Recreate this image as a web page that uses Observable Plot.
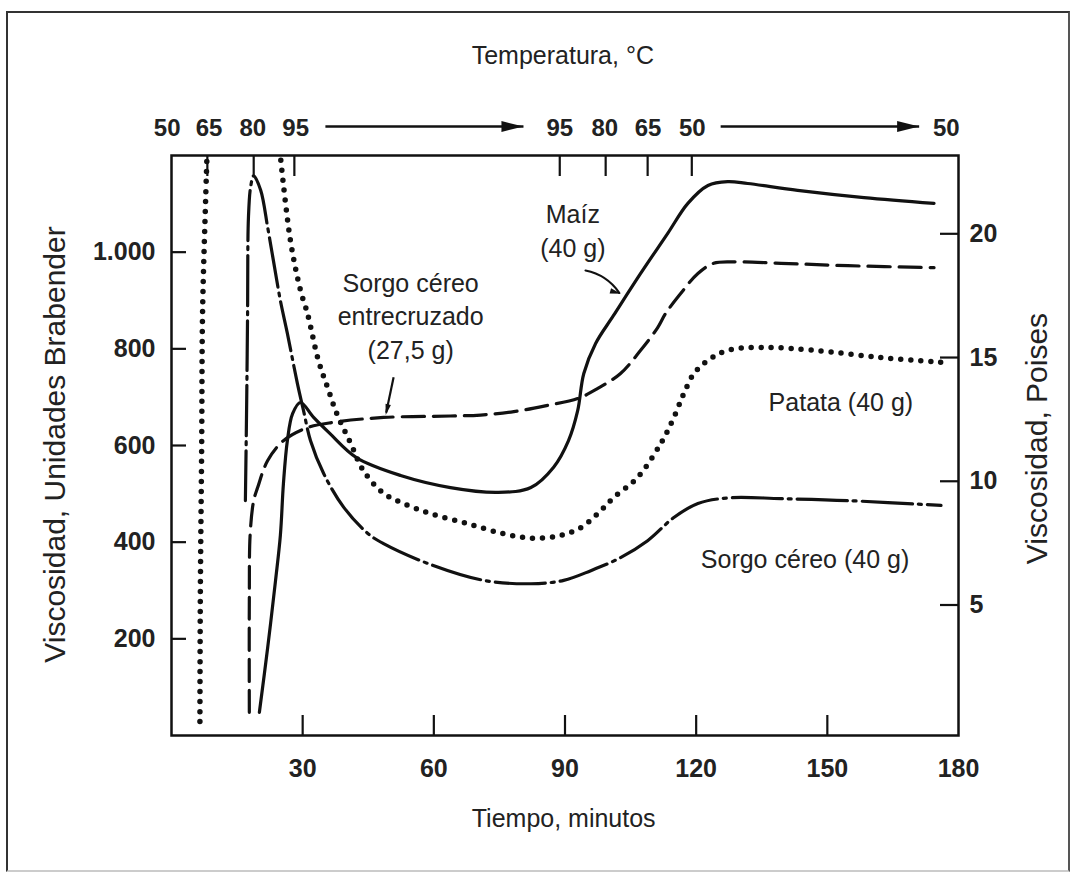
<!DOCTYPE html>
<html>
<head>
<meta charset="utf-8">
<script src="https://cdn.jsdelivr.net/npm/d3@7"></script>
<script src="https://cdn.jsdelivr.net/npm/@observablehq/plot@0.6"></script>
<style>
  html, body { margin: 0; padding: 0; background: #fff; }
  #wrap { position: relative; width: 1076px; height: 874px; overflow: hidden; }
  #border { position: absolute; left: 6px; top: 11px; width: 1060px; height: 857px;
    border-left: 2px solid #333; border-top: 2px solid #333; border-right: 2px solid #555; border-bottom: 2px solid #ccc; pointer-events: none; }
</style>
</head>
<body>
<div id="wrap"><div id="border"></div></div>
<script>
// ---- Data (time in minutes, viscosity in Brabender units) ----
const maizTime = [20.1, 22.0, 23.8, 24.9, 25.6, 26.5, 27.7, 29.5, 32.5, 36.2, 42.3, 52.4, 63.8, 74.6, 82.2, 87.4, 90.8, 92.9, 94.3, 97.0, 101.1, 107.3, 113.5, 118.1, 122.7, 127.2, 131.8, 143.2, 158.4, 174.4];
const maizVisc = [48, 182, 321, 414, 521, 610, 666, 689, 658, 625, 575, 538, 513, 503, 513, 555, 610, 672, 749, 811, 869, 956, 1039, 1101, 1138, 1146, 1142, 1128, 1113, 1101];

const entreTime = [17.8, 17.8, 18.0, 18.8, 19.7, 22.0, 25.6, 31.1, 37.1, 48.5, 63.8, 70.7, 78.3, 86.0, 92.9, 97.5, 102.7, 107.3, 111.2, 113.0, 116.5, 120.4, 124.0, 128.6, 139.4, 154.7, 174.4];
const entreVisc = [48, 279, 418, 486, 513, 569, 610, 637, 648, 658, 661, 663, 670, 683, 697, 718, 749, 797, 844, 873, 915, 956, 977, 980, 977, 972, 968];

const patataRiseTime = [6.5, 6.6, 6.9, 7.1, 7.8, 8.1];
const patataRiseVisc = [29, 300, 600, 873, 1107, 1195];
const patataTime = [25.0, 27.2, 29.5, 31.1, 33.6, 35.7, 37.8, 41.0, 43.9, 48.5, 53.1, 59.3, 67.5, 75.7, 82.8, 89.0, 93.6, 97.5, 101.1, 106.6, 111.9, 114.9, 117.2, 119.5, 122.7, 127.2, 135.5, 146.9, 162.2, 176.0];
const patataVisc = [1190, 1024, 921, 873, 776, 720, 666, 604, 548, 501, 480, 459, 439, 418, 408, 414, 430, 459, 492, 534, 604, 658, 708, 749, 776, 797, 803, 797, 782, 772];

const sorgoTime = [16.9, 17.2, 17.4, 17.6, 18.1, 18.8, 20.4, 22.0, 23.3, 24.9, 26.5, 28.8, 30.2, 31.8, 34.8, 39.4, 44.9, 48.5, 58.6, 71.4, 82.2, 89.7, 95.9, 102.7, 108.9, 114.9, 120.4, 127.9, 139.4, 154.7, 176.0];
const sorgoVisc = [486, 693, 873, 1072, 1135, 1158, 1128, 1051, 983, 900, 832, 728, 672, 610, 542, 472, 418, 397, 356, 321, 314, 321, 341, 368, 403, 451, 480, 492, 490, 486, 476];

// Axis ticks
const bbTicks = [200, 400, 600, 800, 1000];
const timeTickMarks = [30, 60, 90, 120, 150];
const timeTickLabels = [30, 60, 90, 120, 150, 180];
const poiseTicks = [5, 10, 15, 20];
const poiseAsBU = [270, 526, 782, 1038]; // where each poise tick sits on the Brabender scale

// Top temperature scale
const tempLabels = ["50", "65", "80", "95", "95", "80", "65", "50", "50"];
const tempTimes = [-1.0, 8.6, 18.6, 28.4, 88.8, 99.1, 109.0, 119.1, 177.2];
const tempTickTimes = [8.2, 18.8, 28.1, 88.8, 99.3, 108.9, 119.0];
const tempArrowStart = [35.2, 125.6];
const tempArrowEnd = [80.5, 171.0];

// Annotations
const noteTexts = ["Maíz\n(40 g)", "Sorgo céreo\nentrecruzado\n(27,5 g)", "Patata (40 g)", "Sorgo céreo (40 g)"];
const noteTime = [91.8, 54.7, 153.1, 144.9];
const noteVisc = [1048, 871, 693, 368];

const rows = (t, v) => t.map((d, i) => ({t: d, v: v[i]}));
const poiseMap = new Map(poiseAsBU.map((b, i) => [b, poiseTicks[i]]));

const arrowHead = {
  draw(ctx, size) {
    const r = Math.sqrt(size / Math.PI);
    ctx.moveTo(0, 0);
    ctx.lineTo(-2.2 * r, -0.55 * r);
    ctx.lineTo(-2.2 * r, 0.55 * r);
    ctx.closePath();
  }
};

const W = 1076, H = 874, ML = 171, MR = 118, MT = 155, MB = 139;
const xMax = 180;
const minPerPx = xMax / (W - ML - MR);
const ink = "#111";
const font = "'Liberation Sans', Arial, Helvetica, sans-serif";
const blank = () => "";

const topArrows = tempArrowStart.map((s, i) => ({x1: s, x2: tempArrowEnd[i], y: 1200}));
const topTemps = tempTimes.map((t, i) => ({t, label: tempLabels[i]}));
const notes = noteTexts.map((s, i) => ({text: s, t: noteTime[i], v: noteVisc[i]}));

const chart = Plot.plot({
  width: W,
  height: H,
  marginLeft: ML,
  marginRight: MR,
  marginTop: MT,
  marginBottom: MB,
  style: {fontFamily: font, background: "transparent", color: ink},
  x: {domain: [0, xMax], label: null},
  y: {domain: [0, 1200], label: null},
  marks: [
    // curves
    Plot.line(rows(maizTime, maizVisc), {x: "t", y: "v", curve: "catmull-rom", stroke: ink, strokeWidth: 3.2}),
    Plot.line(rows(entreTime, entreVisc), {x: "t", y: "v", curve: "catmull-rom", stroke: ink, strokeWidth: 3.2, strokeDasharray: "22,9"}),
    Plot.line(rows(patataRiseTime, patataRiseVisc), {x: "t", y: "v", curve: "catmull-rom", stroke: ink, strokeWidth: 5.5, strokeDasharray: "0,10", strokeLinecap: "round"}),
    Plot.line(rows(patataTime, patataVisc), {x: "t", y: "v", curve: "catmull-rom", stroke: ink, strokeWidth: 5.5, strokeDasharray: "0,10", strokeLinecap: "round"}),
    Plot.line(rows(sorgoTime, sorgoVisc), {x: "t", y: "v", curve: "catmull-rom", stroke: ink, strokeWidth: 3.2, strokeDasharray: "50,6,3,6"}),

    // frame
    Plot.frame({stroke: ink, strokeWidth: 2.5}),

    // left axis: inward ticks, then labels
    Plot.ruleY(bbTicks, {y: d => d, x1: 0, x2: 15 * minPerPx, stroke: ink, strokeWidth: 2.2}),
    Plot.axisY({anchor: "left", ticks: bbTicks, tickSize: 0, tickPadding: 16, fontSize: 25, fontWeight: "bold", fill: "#222", label: null,
      tickFormat: d => d >= 1000 ? d3.format(",")(d).replace(",", ".") : String(d)}),

    // right axis (poises)
    Plot.ruleY(poiseAsBU, {y: d => d, x1: xMax - 18 * minPerPx, x2: xMax, stroke: ink, strokeWidth: 2.2}),
    Plot.axisY({anchor: "right", ticks: poiseAsBU, tickSize: 0, tickPadding: 11, fontSize: 25, fontWeight: "bold", fill: "#222", label: null,
      tickFormat: d => String(poiseMap.get(d))}),

    // bottom axis
    Plot.axisX({anchor: "bottom", ticks: timeTickMarks, tickSize: 20, dy: -20, strokeWidth: 2.2, stroke: ink, tickFormat: blank, label: null}),
    Plot.axisX({anchor: "bottom", ticks: timeTickLabels, tickSize: 0, tickPadding: 24, fontSize: 25, fontWeight: "bold", fill: "#222", label: null}),

    // top temperature scale
    Plot.axisX({anchor: "top", ticks: tempTickTimes, tickSize: 20, dy: 20, strokeWidth: 2.2, stroke: ink, tickFormat: blank, label: null}),
    Plot.text(topTemps, {x: "t", frameAnchor: "top", lineAnchor: "middle", dy: -27, text: "label", fontSize: 24, fontWeight: "bold", fill: "#222"}),
    Plot.link(topArrows, {x1: "x1", x2: "x2", y1: "y", y2: "y", dy: -29, stroke: ink, strokeWidth: 2.5}),
    Plot.dot(topArrows, {x: "x2", y: "y", dy: -29, symbol: arrowHead, r: 10, fill: ink, stroke: "none", rotate: 0}),

    // axis titles
    Plot.text(["Temperatura, °C"], {x: () => 89.5, frameAnchor: "top", lineAnchor: "middle", dy: -100, text: d => d, fontSize: 25, fill: "#222"}),
    Plot.text(["Tiempo, minutos"], {x: () => 89.7, frameAnchor: "bottom", lineAnchor: "middle", dy: 83, text: d => d, fontSize: 25, fill: "#222"}),
    Plot.text(["Viscosidad, Unidades Brabender"], {frameAnchor: "left", textAnchor: "middle", lineAnchor: "middle", dx: -116, dy: -1, rotate: -90, text: d => d, fontSize: 30, fill: "#222"}),
    Plot.text(["Viscosidad, Poises"], {frameAnchor: "right", textAnchor: "middle", lineAnchor: "middle", dx: 79, dy: -7, rotate: -90, text: d => d, fontSize: 30, fill: "#222"}),

    // annotations
    Plot.text(notes, {x: "t", y: "v", text: "text", fontSize: 25, lineHeight: 1.35, fill: "#222"}),
    // pointer arrows
    Plot.link([{x1: 50.8, y1: 741, x2: 49.1, y2: 668}], {x1: "x1", y1: "y1", x2: "x2", y2: "y2", stroke: ink, strokeWidth: 2.2}),
    Plot.dot([{x: 49.0, y: 663}], {x: "x", y: "y", symbol: arrowHead, r: 5, fill: ink, stroke: "none", rotate: 103}),
    Plot.arrow([{x1: 94.7, y1: 962, x2: 102.4, y2: 916}], {x1: "x1", y1: "y1", x2: "x2", y2: "y2", bend: 22, headLength: 0, stroke: ink, strokeWidth: 2.2}),
    Plot.dot([{x: 102.8, y: 914}], {x: "x", y: "y", symbol: arrowHead, r: 5, fill: ink, stroke: "none", rotate: 15})
  ]
});

document.getElementById("wrap").prepend(chart);
</script>
</body>
</html>
